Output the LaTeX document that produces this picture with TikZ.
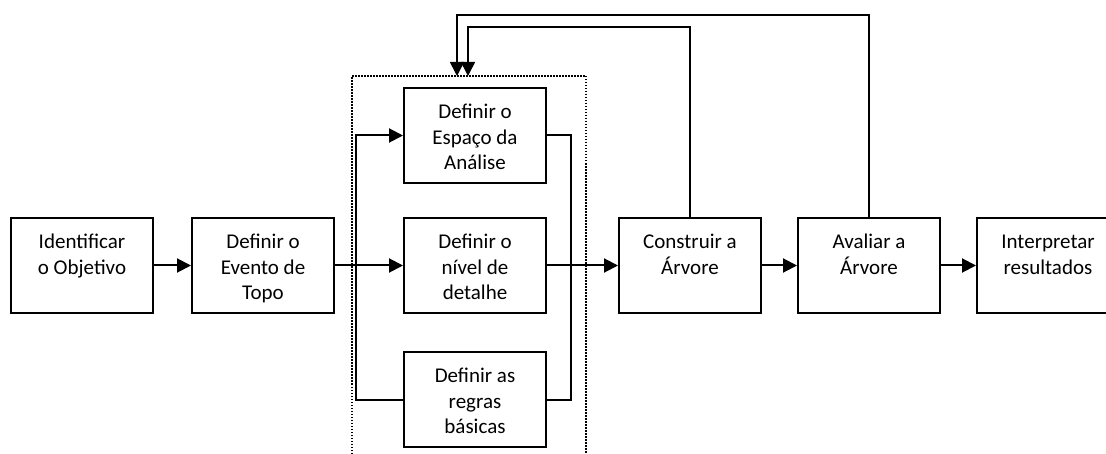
\documentclass[tikz,border=0pt]{standalone}
\usepackage{fontspec}
\setmainfont{Carlito}
\usetikzlibrary{arrows.meta}

% Box content: text hangs from the top edge of a fixed-size box
\newcommand{\boxtxt}[1]{\parbox[c][95pt][t]{140pt}{\centering\vspace*{13pt}\strut#1}}

\begin{document}
\begin{tikzpicture}[x=1pt,y=-1pt,
  stepbox/.style={draw, line width=2pt, inner sep=0pt, minimum width=142pt,
    minimum height=95pt, font=\fontsize{21}{25.5}\selectfont},
  arr/.style={line width=2pt, -{Triangle[length=14pt,width=14pt]}},
  link/.style={line width=2pt},
  back/.style={line width=1.6pt, -{Triangle[length=14pt,width=14pt]}},
  frame/.style={line width=1.5pt, dash pattern=on 1.5pt off 1.5pt}]
\useasboundingbox (0,0) rectangle (1106,454);
\clip (0,0) rectangle (1106,454);

% dotted frame round the three definition steps (open at the bottom)
\coordinate (frBL) at (352,460);
\coordinate (frTR) at (586,76);
\draw[frame] (frBL) |- (frTR) -- (frTR |- frBL);

% process steps
\node[stepbox] (id)  at (82,265.5)  {\boxtxt{Identificar\\o Objetivo}};
\node[stepbox] (ev)  at (263,265.5) {\boxtxt{Definir o\\Evento de\\Topo}};
\node[stepbox] (esp) at (475,135.5) {\boxtxt{Definir o\\Espaço da\\Análise}};
\node[stepbox] (niv) at (475,265.5) {\boxtxt{Definir o\\nível de\\detalhe}};
\node[stepbox] (reg) at (475,399.5) {\boxtxt{Definir as\\regras\\básicas}};
\node[stepbox] (con) at (690,265.5) {\boxtxt{Construir a\\Árvore}};
\node[stepbox] (ava) at (869,265.5) {\boxtxt{Avaliar a\\Árvore}};
\node[stepbox] (int) at (1048,265.5) {\boxtxt{Interpretar\\resultados}};

% main flow
\draw[arr] (id) -- (ev);
\draw[arr] (ev.east) -- (niv.west);
\draw[arr] (reg.west) -- ++(-47,0) |- (esp.west);
\draw[link] (esp.east) -- ++(24,0) |- (reg.east);
\draw[arr] (niv.east) -- (con.west);
\draw[arr] (con) -- (ava);
\draw[arr] (ava) -- (int);

% feedback loops back to the definition steps
\coordinate (fb1) at (468,76);
\coordinate (fb2) at (457,76);
\draw[back] (con.north) -- ++(0,-190) -| (fb1);
\draw[back] (ava.north) -- ++(0,-202) -| (fb2);
\end{tikzpicture}
\end{document}
